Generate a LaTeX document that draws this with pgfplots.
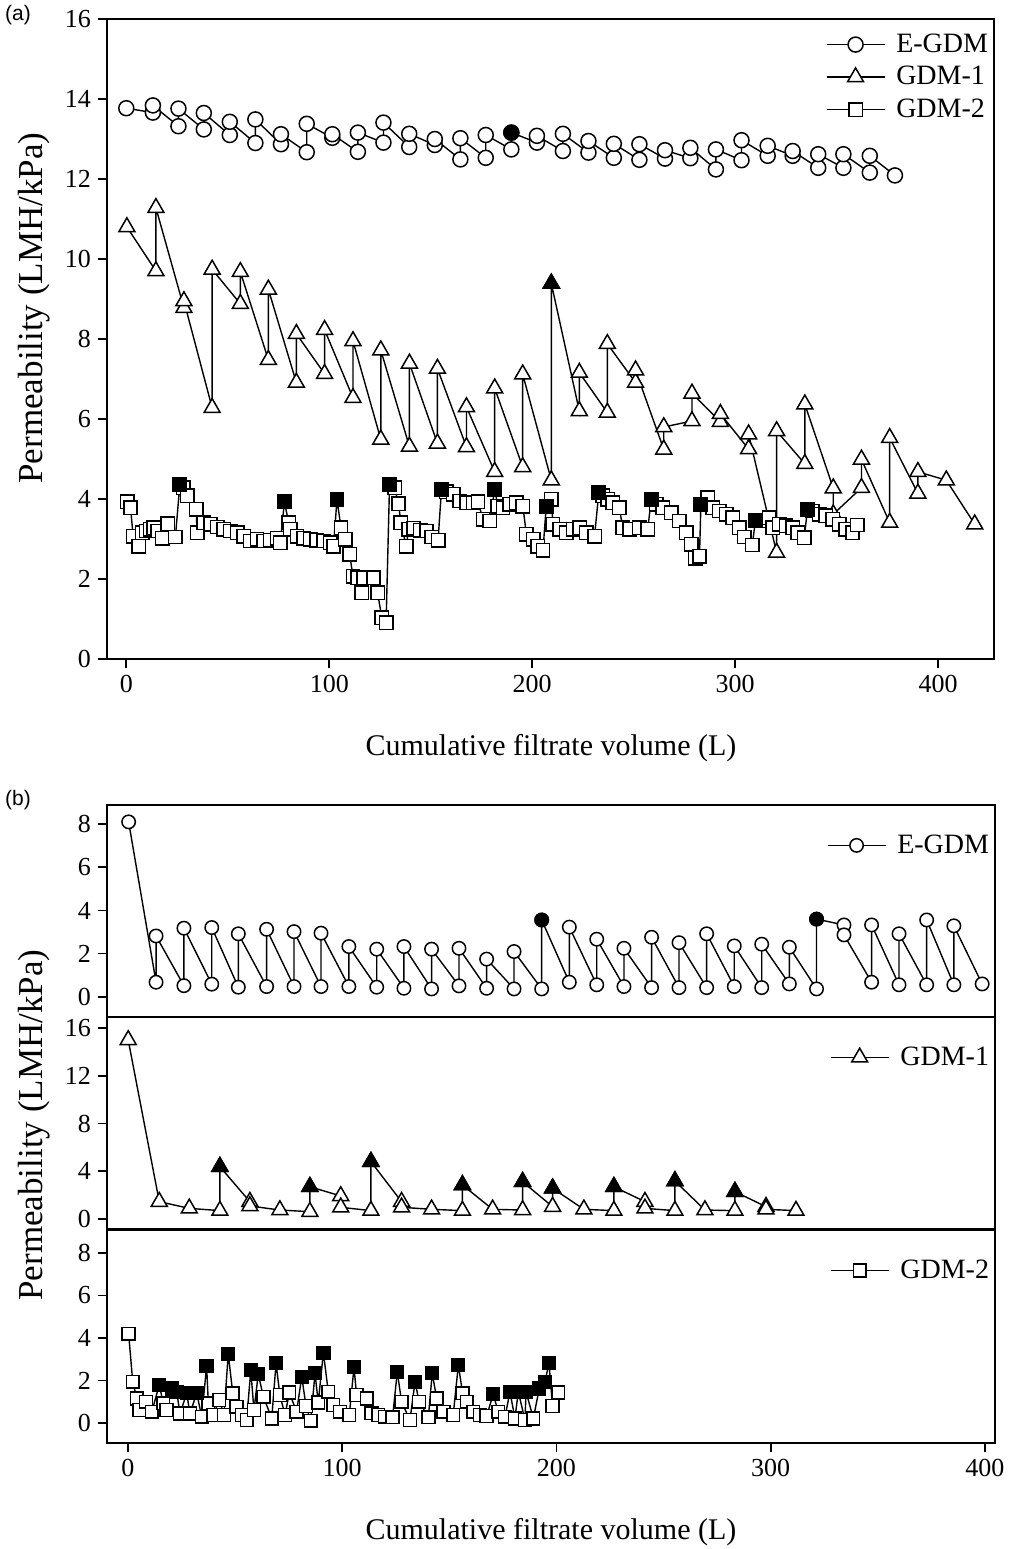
\documentclass[border=0pt]{standalone}
\usepackage{fontspec}
\setmainfont{Liberation Serif}
\newfontfamily\panelfont{Liberation Sans}
\usepackage{pgfplots}
\pgfplotsset{compat=1.18}

\pgfplotsset{
  permstyle/.style={
    scale only axis,
    axis line style={line width=0.8pt},
    tick style={line width=0.8pt, black},
    tick align=outside,
    xtick pos=bottom, ytick pos=left,
    major tick length=4.5pt,
    tick label style={font=\fontsize{13}{13}\selectfont},
    /pgf/number format/assume math mode=true,
    clip=false,
    legend cell align=left,
    legend style={draw=none, fill=none, font=\fontsize{14}{14}\selectfont,
      anchor=north east, row sep=1.5pt,
      /tikz/every odd column/.append style={column sep=3.5pt}},
    legend image code/.code={
      \draw[mark repeat=2, mark phase=2, ##1]
        plot coordinates {(0pt,0pt) (14.5pt,0pt) (29pt,0pt)};},
  },
  ser/.style={black, line width=0.7pt,
    mark options={solid, fill=white, line width=0.75pt}},
  fil/.style={only marks, black, forget plot,
    mark options={solid, fill=black, line width=0.75pt}},
}

\begin{document}
\begin{tikzpicture}
\useasboundingbox (0,0) rectangle (508.5pt,-774.5pt);

% ---------------- panel (a)
\begin{axis}[permstyle,
  at={(53.5pt,-329.5pt)}, anchor=south west,
  width=443.5pt, height=320pt,
  xmin=-9.5, xmax=427.5, ymin=0, ymax=16,
  xtick={0,100,...,400}, ytick={0,2,...,16},
  legend style={at={(rel axis cs:1.005,0.99)}}]

\addplot[ser, mark=*, mark size=3.75pt] coordinates {
 (0,13.77) (13.1,13.66) (13.1,13.84) (25.7,13.32) (25.7,13.76)
 (38.2,13.24) (38.2,13.65) (51,13.1) (51,13.43) (63.6,12.9) (63.6,13.49)
 (76.2,12.87) (76.2,13.12) (88.9,12.67) (88.9,13.38) (101.5,13.03) (101.5,13.12)
 (114.1,12.68) (114.1,13.16) (126.7,12.91) (126.7,13.41) (139.4,12.8) (139.4,13.13)
 (152,12.85) (152,13.0) (164.6,12.49) (164.6,13.02) (177.1,12.53) (177.1,13.1)
 (189.7,12.74) (189.7,13.16) (202.3,12.91) (202.3,13.08) (215.1,12.7) (215.1,13.13)
 (227.7,12.66) (227.7,12.95) (240.2,12.53) (240.2,12.88) (252.8,12.48) (252.8,12.87)
 (265.4,12.51) (265.4,12.72) (277.9,12.52) (277.9,12.78) (290.5,12.24) (290.5,12.74)
 (303.1,12.47) (303.1,12.97) (316,12.58) (316,12.83) (328.3,12.58) (328.3,12.7)
 (340.9,12.28) (340.9,12.62) (353.3,12.28) (353.3,12.62) (366.3,12.16) (366.3,12.58)
 (378.7,12.09)
};
\addlegendentry{E-GDM}
\addplot[fil, mark=*, mark size=3.75pt] coordinates {(189.7,13.16)};

\addplot[ser, mark=triangle*, mark size=4.6pt] coordinates {
 (0.3,10.8) (14.6,9.7) (14.6,11.28) (28.4,8.78) (28.4,8.95) (42.3,6.28) (42.3,9.74)
 (56.2,8.88) (56.2,9.68) (70,7.48) (70,9.24) (83.8,6.91) (83.8,8.13)
 (97.7,7.13) (97.7,8.23) (111.7,6.53) (111.7,7.95) (125.4,5.49) (125.4,7.72)
 (139.5,5.31) (139.5,7.39) (153.3,5.39) (153.3,7.26) (167.6,5.3) (167.6,6.3)
 (181.5,4.68) (181.5,6.77) (195.3,4.8) (195.3,7.12) (209.4,4.47) (209.4,9.39)
 (223.2,6.2) (223.2,7.16) (237,6.16) (237,7.88) (250.9,6.91) (250.9,7.22)
 (264.8,5.24) (264.8,5.8) (278.7,5.95) (278.7,6.64) (292.7,5.93) (292.7,6.13)
 (306.6,5.25) (306.6,5.62) (320.4,2.66) (320.4,5.7) (334.3,4.88) (334.3,6.37)
 (348.3,4.27) (348.3,3.62) (362.2,4.28) (362.2,4.99) (376.1,3.41) (376.1,5.53)
 (390,4.14) (390,4.68) (404,4.47) (418,3.37)
};
\addlegendentry{GDM-1}
\addplot[fil, mark=triangle*, mark size=4.6pt] coordinates {(209.4,9.39)};

\addplot[ser, mark=square*, mark size=3.35pt] coordinates {
 (0.5,3.93) (2.1,3.78) (3.4,3.07) (6.2,2.82) (7.9,3.16) (9.9,3.2) (11.9,3.24)
 (13.6,3.28) (15.6,3.2) (17.7,3.02) (20.5,3.38) (24.2,3.05) (26.4,4.37) (28,4.28)
 (30,4.08) (34.4,3.74) (34.9,3.16) (38.2,3.41) (41.5,3.37) (44.8,3.3) (48,3.24)
 (51.3,3.2) (54.6,3.16) (57.9,3.07) (61.1,2.95) (64.4,2.99) (67.7,2.95) (71,2.97)
 (74.3,3.02) (75.9,2.91) (77.9,3.93) (80,3.41) (80.8,3.24) (84.1,3.07) (87.4,3.02)
 (90.6,2.99) (93.9,2.97) (97.2,2.95) (100.5,2.91) (102.1,2.82) (103.8,3.99)
 (105.8,3.28) (107.9,2.99) (110,2.62) (111.7,2.07) (114,2.03) (116.1,1.66)
 (116.9,2.03) (121.8,2.03) (123.8,1.66) (125.9,1.03) (128,0.91) (129.7,4.37)
 (132.2,4.28) (134.1,3.88) (135.3,3.41) (137.9,2.82) (139.1,3.24) (141.5,3.27)
 (144.8,3.22) (147.9,3.2) (150.5,3.05) (153.6,2.97) (155.3,4.24) (157.7,4.18)
 (161,4.12) (164.3,3.95) (167.6,3.91) (170.8,3.91) (173.3,3.93) (175.8,3.49)
 (179,3.45) (181.5,4.24) (183.1,3.82) (185.6,3.78) (188.9,3.87) (192.2,3.91)
 (195.4,3.82) (197.1,3.12) (200.4,2.99) (202.8,2.82) (205.3,2.72) (206.9,3.82)
 (209.4,3.99) (210.2,3.37) (213.5,3.24) (216.8,3.16) (220.1,3.24) (223.4,3.28)
 (226.7,3.16) (230.7,3.07) (232.8,4.16) (234.7,4.08) (237.2,3.99) (239.6,3.91)
 (242.9,3.78) (244.6,3.28) (247.9,3.24) (252.8,3.28) (256.9,3.24) (258.6,3.99)
 (261,3.87) (264.3,3.78) (268.4,3.66) (272.5,3.45) (275.8,3.16) (278.3,2.87)
 (280.4,2.52) (282.4,2.57) (283.1,3.87) (286.5,4.03) (288.9,3.78) (292.2,3.7)
 (295.5,3.62) (298.8,3.53) (302,3.28) (304.5,3.05) (308.4,2.85) (310,3.47)
 (312.7,3.45) (316.8,3.53) (318.4,3.28) (321.7,3.37) (325,3.33) (328.3,3.28)
 (330.8,3.16) (334,3.03) (335.6,3.74) (338.1,3.7) (341.4,3.62) (344.7,3.58)
 (348,3.49) (351.2,3.37) (354.5,3.24) (357.8,3.16) (360.2,3.35)
};
\addlegendentry{GDM-2}
\addplot[fil, mark=square*, mark size=3.35pt] coordinates {
 (26.4,4.37) (77.9,3.93) (103.8,3.99) (129.7,4.37) (155.3,4.24) (181.5,4.24)
 (206.9,3.82) (232.8,4.16) (258.6,3.99) (283.1,3.87) (310,3.47) (335.6,3.74)
};
\end{axis}

% ---------------- panel (b), top
\begin{axis}[permstyle,
  at={(53.5pt,-402.5pt)}, anchor=north west,
  width=444pt, height=106pt,
  xmin=-9.8, xmax=404.7, ymin=-0.93, ymax=8.88,
  xtick=\empty, ytick={0,2,...,8},
  legend style={at={(rel axis cs:1.005,0.90)}}]
\addplot[ser, mark=*, mark size=3.35pt] coordinates {
 (0.3,8.1) (13.1,0.68) (13.1,2.82) (26.1,0.52) (26.1,3.18) (39.1,0.59) (39.1,3.21)
 (51.5,0.45) (51.5,2.92) (64.7,0.48) (64.7,3.13) (77.5,0.48) (77.5,3.02)
 (90.1,0.48) (90.1,2.95) (103.1,0.48) (103.1,2.33) (116.1,0.45) (116.1,2.21)
 (128.8,0.4) (128.8,2.33) (141.7,0.37) (141.7,2.21) (154.5,0.51) (154.5,2.25)
 (167.4,0.4) (167.4,1.75) (180.2,0.37) (180.2,2.1) (193.1,0.37) (193.1,3.56)
 (206,0.68) (206,3.23) (218.8,0.56) (218.8,2.67) (231.5,0.48) (231.5,2.25)
 (244.4,0.43) (244.4,2.76) (257.2,0.43) (257.2,2.51) (270.1,0.43) (270.1,2.92)
 (283,0.48) (283,2.36) (295.8,0.43) (295.8,2.44) (308.7,0.6) (308.7,2.3)
 (321.4,0.37) (321.4,3.6) (334.2,3.33) (334.2,2.87) (347.1,0.68) (347.1,3.33)
 (359.9,0.56) (359.9,2.92) (372.8,0.56) (372.8,3.56) (385.5,0.56) (385.5,3.29)
 (398.7,0.6)
};
\addlegendentry{E-GDM}
\addplot[fil, mark=*, mark size=3.35pt] coordinates {(193.1,3.56) (321.4,3.6)};
\end{axis}

% ---------------- panel (b), middle
\begin{axis}[permstyle,
  at={(53.5pt,-508.5pt)}, anchor=north west,
  width=444pt, height=106pt,
  xmin=-9.8, xmax=404.7, ymin=-0.84, ymax=16.92,
  xtick=\empty, ytick={0,4,...,16},
  legend style={at={(rel axis cs:1.005,0.90)}}]
\addplot[ser, mark=triangle*, mark size=4.6pt] coordinates {
 (0.1,15.0) (14.6,1.45) (28.6,0.89) (42.9,0.7) (42.9,4.38) (56.9,1.45) (56.9,1.09)
 (70.9,0.75) (84.9,0.61) (84.9,2.7) (99.3,1.93) (99.3,0.98) (113.4,0.7) (113.4,4.8)
 (127.7,1.45) (127.7,0.98) (141.7,0.81) (156.1,0.7) (156.1,2.85) (170.2,0.81)
 (184.2,0.75) (184.2,3.12) (198.2,1.03) (198.2,2.57) (212.8,0.81) (226.8,0.7)
 (226.8,2.7) (241.3,1.45) (241.3,0.89) (255.3,0.7) (255.3,3.18) (269.3,0.75)
 (283.3,0.7) (283.3,2.29) (297.8,1.03) (297.8,0.81) (311.8,0.7)
};
\addlegendentry{GDM-1}
\addplot[fil, mark=triangle*, mark size=4.6pt] coordinates {
 (42.9,4.38) (84.9,2.7) (113.4,4.8) (156.1,2.85) (184.2,3.12) (198.2,2.57)
 (226.8,2.7) (255.3,3.18) (283.3,2.29)
};
\end{axis}

% ---------------- panel (b), bottom
\begin{axis}[permstyle,
  at={(53.5pt,-615pt)}, anchor=north west,
  width=444pt, height=106.5pt,
  xmin=-9.8, xmax=404.7, ymin=-0.94, ymax=9.08,
  xtick={0,100,...,400}, ytick={0,2,...,8},
  legend style={at={(rel axis cs:1.005,0.90)}}]
\addplot[ser, mark=square*, mark size=3.2pt] coordinates {
 (0.3,4.2) (2.2,1.94) (4.1,1.16) (5.3,0.61) (8.4,1.0) (11.1,0.53) (14.6,1.79)
 (16.5,0.93) (18,0.61) (20.4,1.63) (22.7,1.47) (24.3,0.45) (27.4,1.4) (28.9,0.45)
 (32.1,1.4) (34.4,0.3) (36.7,2.68) (37.5,0.93) (39.8,0.38) (42.6,1.08) (44.8,0.38)
 (46.8,3.25) (48.9,1.4) (50.7,0.77) (53.1,0.38) (55.4,0.14) (57.3,2.49) (58.8,0.61)
 (60.8,2.3) (63.2,1.24) (67.1,0.22) (69.1,2.81) (70.9,1.32) (73.3,0.38) (75.3,1.43)
 (78.7,0.53) (81.1,2.18) (83.1,0.8) (85.3,0.11) (87.3,2.34) (88.8,0.96) (91.2,3.31)
 (93.5,1.47) (95.8,0.85) (99,0.53) (103.3,0.38) (105.5,2.62) (106.7,1.32)
 (111.4,1.16) (113.7,0.46) (116.8,0.38) (120,0.3) (123.5,0.27) (125.7,2.41)
 (127.7,1.0) (131.6,0.14) (134,1.94) (135.9,1.0) (140.2,0.27) (142,2.34)
 (144.1,1.16) (147.2,0.53) (151.8,0.38) (154.2,2.73) (156.2,1.4) (158.1,1.0)
 (161.2,0.53) (164.3,0.38) (167.4,0.33) (170.5,1.36) (172.8,0.53) (176,0.3)
 (178.3,1.47) (180.6,0.22) (182.2,1.47) (185.3,0.14) (185.8,1.47) (189.2,0.22)
 (192,1.63) (194.6,1.94) (196.5,2.81) (198.2,0.8) (200.8,1.43)
};
\addlegendentry{GDM-2}
\addplot[fil, mark=square*, mark size=3.2pt] coordinates {
 (14.6,1.79) (20.4,1.63) (22.7,1.47) (27.4,1.4) (32.1,1.4) (36.7,2.68) (46.8,3.25)
 (57.3,2.49) (60.8,2.3) (69.1,2.81) (81.1,2.18) (87.3,2.34) (91.2,3.31) (105.5,2.62)
 (125.7,2.41) (134,1.94) (142,2.34) (154.2,2.73) (170.5,1.36) (178.3,1.47)
 (182.2,1.47) (185.8,1.47) (192,1.63) (194.6,1.94) (196.5,2.81)
};
\end{axis}

% labels
\node[font=\fontsize{15}{15}\selectfont] at (275.5pt,-374pt) {Cumulative filtrate volume (L)};
\node[font=\fontsize{15}{15}\selectfont] at (275.5pt,-766pt) {Cumulative filtrate volume (L)};
\node[font=\fontsize{17.5}{17.5}\selectfont, rotate=90] at (17pt,-154pt) {Permeability (LMH/kPa)};
\node[font=\fontsize{17.5}{17.5}\selectfont, rotate=90] at (17pt,-562.5pt) {Permeability (LMH/kPa)};
\node[font=\panelfont\fontsize{10.5}{10.5}\selectfont] at (9pt,-7.5pt) {(a)};
\node[font=\panelfont\fontsize{10.5}{10.5}\selectfont] at (9pt,-400pt) {(b)};
\end{tikzpicture}
\end{document}
